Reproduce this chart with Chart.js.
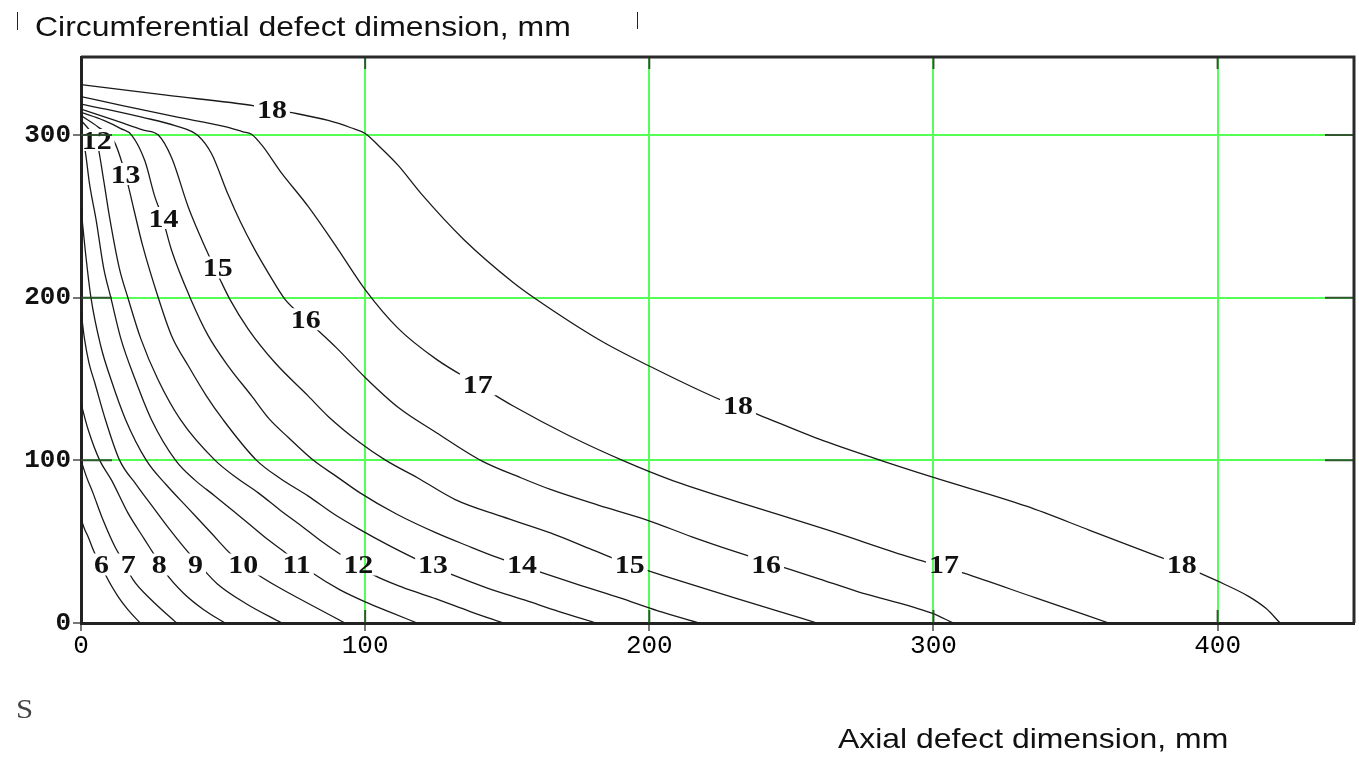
<!DOCTYPE html>
<html>
<head>
<meta charset="utf-8">
<script src="https://cdn.jsdelivr.net/npm/chart.js@4.4.0/dist/chart.umd.min.js"></script>
<style>
  html, body { margin: 0; padding: 0; background: #fff; }
  #wrap { position: relative; width: 1359px; height: 762px; overflow: hidden; }
  canvas { position: absolute; left: 0; top: 0; }
  .txt { position: absolute; white-space: nowrap; transform-origin: 0 0; line-height: 1; }
  .title { font-family: "Liberation Sans", Arial, sans-serif; font-size: 28px; color: #111; transform: scaleX(1.14); }
  .mark { position: absolute; width: 1px; background: #222; }
</style>
</head>
<body>
<div id="wrap">
  <canvas id="chart" width="1359" height="762"></canvas>
  <div class="mark" style="left:17px; top:12px; height:18px;"></div>
  <div class="mark" style="left:637px; top:12px; height:17px;"></div>
  <div class="txt title" style="left:35px; top:13px;">Circumferential defect dimension, mm</div>
  <div class="txt title" style="left:838px; top:725px;">Axial defect dimension, mm</div>
  <div class="txt" style="left:16px; top:695px; font-family:'Liberation Serif', serif; font-size:28px; color:#444; transform:scaleX(1.1);">S</div>
</div>
<script>
// contour levels and the points (x = axial mm, y = circumferential mm)
const levels = [6, 7, 8, 9, 10, 11, 12, 13, 14, 15, 16, 17, 18];

const level6 = [[0,64],[1.2,58],[2.5,53],[4.8,43],[7.2,36],[8.9,28.7],[13,16.4],[16.5,8.2],[20.8,0]];
const level7 = [[0,100],[1.9,90],[4.2,80],[7.7,63.6],[11.9,47],[14.5,39],[18.3,26.7],[24.7,14.3],[33.7,0]];
const level8 = [[0,135],[2.5,119],[6.6,100],[10.7,88],[16.5,67.7],[22.4,51.3],[26.5,40],[29.7,31],[36,18.5],[43.2,8.2],[50.7,0]];
const level9 = [[0,192],[1.2,175],[2.8,160],[4.8,148],[8.6,125],[13.6,100],[19.5,85],[25,72],[31,58],[36.5,46],[41.5,36],[48,24],[58,12],[70.6,0]];
const level10 = [[0,255],[1.5,229],[3.5,200],[7,170],[10.5,150],[15.7,125],[23,100],[30,85],[38,70],[46,55],[53,42],[62,30],[70,21.5],[80,12],[92.9,0]];
const level11 = [[0,302],[1.5,290],[3,270],[5.3,248],[8,218],[10.5,200],[14,175],[19,150],[24.8,125],[33.3,100],[40,88],[47.2,78],[53.5,69],[60.1,59.5],[66,51],[70.6,45],[81.2,31],[91,20.5],[100,13],[109,6.5],[118.3,0]];
const level12 = [[0,309],[3,303],[5.6,296],[8,272],[10,250],[13.5,218],[16.5,200],[21,175],[27,150],[35,125],[47.2,100],[55,89],[62.4,80],[70,69.5],[77.7,59.5],[84,51],[90.6,43],[102.7,29.7],[113,22],[125,14.8],[137,7],[148.5,0]];
const level13 = [[0,312],[6,305],[11.7,296],[15.6,276],[18.5,255],[21.7,232],[27.2,200],[31.9,176.5],[37.8,158],[44,140],[50,125],[61.8,100],[70,89],[80,78],[89,67],[98.2,57.4],[108,48],[118.3,39],[130.6,29.7],[143,21.5],[156.3,14],[168,7.2],[181.3,0]];
const level14 = [[0,314],[8,309],[14,304],[17.8,300],[22.5,284],[26,262],[28.5,250],[31.9,229],[38.4,200],[44.8,176.5],[51.8,158],[60.1,139.5],[66,126],[73,114],[81.8,100],[90,90],[98.2,80],[111,67],[125,55.4],[136,47.5],[146.2,40.5],[163,30.5],[176,23],[189.7,15.4],[203,7.5],[217.7,0]];
const level15 = [[0,316],[12,309],[22,303],[27.2,300],[31.9,286],[37.8,255.5],[44.2,229],[48.9,211.4],[52.4,199],[58.9,180.6],[68.3,160],[80,139.5],[87,127],[98.2,110.8],[107.3,100],[118.4,89.3],[131.7,75.9],[148,65.5],[165.2,55.4],[180,45],[193,36],[206,28.5],[230,15.4],[245,7.5],[259,0]];
const level16 = [[0,319],[10,315.5],[21.4,311],[33.1,305.8],[41.2,299.6],[46,288.4],[51.7,263.7],[56,247],[61.2,229.4],[66,215],[71.8,199],[79,187],[90,169],[100,151],[111.7,132.5],[125.1,117],[141,99.7],[154.8,89.3],[165.2,82.1],[182,72.5],[198.7,63.6],[215,53],[230,44],[245,35.5],[260,27],[273,19.5],[299.2,6.2],[307,0]];
const level17 = [[0,323.6],[15,318],[33.1,311.3],[50.7,305.2],[57,302],[60,300.5],[64,293],[70,278],[80,256],[90,231],[100,205],[111.7,181],[125.1,162.1],[139.5,146.7],[152.1,133.4],[172,115],[191,99.7],[207.3,88.2],[232.2,73.9],[262.4,57.4],[292.5,40],[310.4,30.8],[336,15.4],[361.7,0]];
const level18 = [[0,331],[30,324.5],[61,318],[73.6,314],[87,309],[95,304.5],[100,301],[105,293],[111.7,281.2],[119.7,264],[134.6,236],[152.1,209.4],[160.2,199.1],[183.1,173.4],[200,158],[223.4,138.5],[238.5,128],[259.8,113],[281.4,100],[300,89.5],[332.7,71.8],[355,57],[377.4,42],[388,35],[399.7,26],[410.9,16.4],[417,9],[422,0]];

const curves = [level6, level7, level8, level9, level10, level11, level12, level13, level14, level15, level16, level17, level18];

// inline contour labels: level and where it sits
const labelLevels = [6, 7, 8, 9, 10, 11, 12, 13, 14, 15, 16, 17, 18, 12, 13, 14, 15, 16, 17, 18, 18];
const labelX = [7.2, 16.6, 27.5, 40.3, 57.1, 75.9, 97.6, 123.9, 155.2, 193.1, 241.1, 303.7, 387.4, 5.5, 15.7, 29, 48.1, 79.1, 139.6, 231.2, 67.2];
const labelY = [36, 36, 36, 36, 36, 36, 36, 36, 36, 36, 36, 36, 36, 297, 276, 249, 218.6, 186.8, 146.7, 134, 316.3];

const xTicks = [0, 100, 200, 300, 400];
const yTicks = [0, 100, 200, 300];

const GREEN = 'rgb(85,255,85)';
const LABEL_FONT = 'bold 26px "Liberation Serif", serif';
const STRETCH = 1.15;

function labelBoxes(chart) {
    const ctx = chart.ctx;
    const x = chart.scales.x, y = chart.scales.y;
    ctx.save();
    ctx.font = LABEL_FONT;
    const boxes = labelLevels.map(function (lv, i) {
        const w = ctx.measureText(String(lv)).width * STRETCH + 6;
        return { text: String(lv), cx: x.getPixelForValue(labelX[i]), cy: y.getPixelForValue(labelY[i]), w: w, h: 22 };
    });
    ctx.restore();
    return boxes;
}

const contourLabels = {
    id: 'contourLabels',
    beforeDatasetsDraw(chart) {
        const ctx = chart.ctx, a = chart.chartArea;
        ctx.save();
        ctx.beginPath();
        ctx.rect(a.left, a.top, a.right - a.left, a.bottom - a.top);
        labelBoxes(chart).forEach(function (b) {
            ctx.rect(b.cx - b.w / 2, b.cy - b.h / 2, b.w, b.h);
        });
        ctx.clip('evenodd');
    },
    afterDatasetsDraw(chart) {
        const ctx = chart.ctx, a = chart.chartArea;
        ctx.restore();

        // labels on the contours
        ctx.save();
        ctx.font = LABEL_FONT;
        ctx.fillStyle = '#111';
        ctx.textAlign = 'center';
        ctx.textBaseline = 'alphabetic';
        labelBoxes(chart).forEach(function (b) {
            ctx.save();
            ctx.translate(b.cx, b.cy);
            ctx.scale(STRETCH, 1);
            ctx.fillText(b.text, 0, 9);
            ctx.restore();
        });
        ctx.restore();

        // dark tick segments inside the frame
        ctx.save();
        ctx.strokeStyle = 'rgba(45,70,45,0.9)';
        ctx.lineWidth = 2;
        ctx.beginPath();
        xTicks.slice(1).forEach(function (v) {
            const px = chart.scales.x.getPixelForValue(v);
            ctx.moveTo(px, a.top); ctx.lineTo(px, a.top + 12);
            ctx.moveTo(px, a.bottom - 13); ctx.lineTo(px, a.bottom);
        });
        yTicks.slice(1).forEach(function (v) {
            const py = chart.scales.y.getPixelForValue(v);
            ctx.moveTo(a.left, py); ctx.lineTo(a.left + 31, py);
            ctx.moveTo(a.right - 29, py); ctx.lineTo(a.right, py);
        });
        ctx.stroke();

        // top and right edge of the frame
        ctx.strokeStyle = '#2a2a2a';
        ctx.lineWidth = 3;
        ctx.beginPath();
        ctx.moveTo(a.left, a.top); ctx.lineTo(a.right, a.top); ctx.lineTo(a.right, a.bottom);
        ctx.stroke();
        ctx.restore();
    }
};

const datasets = levels.map(function (lv, i) {
    return {
        label: String(lv),
        data: curves[i].map(function (p) { return { x: p[0], y: p[1] }; }),
        showLine: true,
        borderColor: '#1a1a1a',
        borderWidth: 1.3,
        pointRadius: 0,
        cubicInterpolationMode: 'monotone',
        fill: false
    };
});

function gridColor(c) {
    return (c.tick && c.tick.value === 0) ? 'rgba(0,0,0,0)' : GREEN;
}

var ctx = document.getElementById('chart').getContext('2d');
var contourChart = new Chart(ctx, {
    type: 'scatter',
    data: { datasets: datasets },
    options: {
        responsive: false,
        animation: false,
        devicePixelRatio: 1,
        layout: { padding: { left: 0, right: 5, top: 57, bottom: 99 } },
        plugins: {
            legend: { display: false },
            tooltip: { enabled: false }
        },
        scales: {
            x: {
                type: 'linear',
                min: 0,
                max: 448,
                afterBuildTicks: function (s) { s.ticks = xTicks.map(function (v) { return { value: v }; }); },
                afterFit: function (s) { s.height = 40; },
                grid: { color: gridColor, lineWidth: 2, tickLength: 8, tickColor: '#777', tickWidth: 2 },
                border: { display: true, color: '#222', width: 3 },
                ticks: {
                    font: { family: '"Liberation Mono", monospace', size: 26, lineHeight: 1.2 },
                    color: '#000',
                    padding: 0,
                    maxRotation: 0,
                    autoSkip: false
                }
            },
            y: {
                type: 'linear',
                min: 0,
                max: 348,
                afterBuildTicks: function (s) { s.ticks = yTicks.map(function (v) { return { value: v }; }); },
                afterFit: function (s) { s.width = 81; },
                grid: { color: gridColor, lineWidth: 2, tickLength: 8, tickColor: '#777', tickWidth: 2 },
                border: { display: true, color: '#222', width: 3 },
                ticks: {
                    font: { family: '"Liberation Mono", monospace', size: 26, weight: 'bold' },
                    color: '#111',
                    padding: 2,
                    autoSkip: false
                }
            }
        }
    },
    plugins: [contourLabels]
});
</script>
</body>
</html>
